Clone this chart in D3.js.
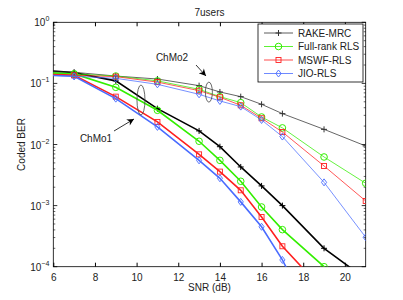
<!DOCTYPE html>
<html>
<head>
<meta charset="utf-8">
<script src="https://cdn.jsdelivr.net/npm/d3@7"></script>
<style>
  body { margin: 0; background: #fff; }
  text { font-family: "Liberation Sans", Arial, sans-serif; fill: #222; }
</style>
</head>
<body>
<script>
var width = 403;
var height = 300;
var margin = {top: 22.3, right: 37.3, bottom: 33.3, left: 53.3};

var snr = [5, 7, 9, 11, 13, 14, 15, 16, 17, 19, 21];
var seriesNames = ["RAKE-MRC", "Full-rank RLS", "MSWF-RLS", "JIO-RLS"];
var seriesColors = ["#000000", "#33ee00", "#ff2020", "#4a6cff"];
var markers = ["plus", "circle", "square", "diamond"];

// ChMo1 (thick lines)
var rakeMo1 = [0.17, 0.150, 0.110, 0.0386, 0.0167, 0.0092, 0.00429, 0.0021, 0.0010, 2.0e-4, 6.3e-5];
var fullMo1 = [0.155, 0.143, 0.0863, 0.0363, 0.0113, 0.0055, 0.0025, 9.5e-4, 4.04e-4, 1.0e-4, 2.0e-5];
var mswfMo1 = [0.145, 0.136, 0.0607, 0.0234, 0.0069, 0.0036, 0.00178, 6.5e-4, 2.16e-4, 4.0e-5, 8e-6];
var jioMo1  = [0.14, 0.131, 0.0563, 0.0194, 0.0055, 0.0028, 0.00115, 4.5e-4, 1.29e-4, 6e-6, 1e-6];

// ChMo2 (thin lines)
var rakeMo2 = [0.16, 0.152, 0.132, 0.118, 0.0919, 0.0724, 0.0607, 0.0455, 0.032, 0.0177, 0.00946];
var fullMo2 = [0.15, 0.143, 0.132, 0.110, 0.080, 0.0607, 0.0484, 0.0282, 0.0187, 0.00625, 0.00232];
var mswfMo2 = [0.145, 0.136, 0.129, 0.105, 0.0761, 0.0593, 0.0438, 0.0269, 0.016, 0.00445, 0.00119];
var jioMo2  = [0.14, 0.131, 0.121, 0.0966, 0.0663, 0.0516, 0.0417, 0.0252, 0.0135, 0.0024, 3.03e-4];

var xTicks = [6, 8, 10, 12, 14, 16, 18, 20];
var yTicks = [1, 0.1, 0.01, 0.001, 0.0001];

var svg = d3.select("body").append("svg")
  .attr("width", width).attr("height", height);

var pw = width - margin.left - margin.right;
var ph = height - margin.top - margin.bottom;

var x = d3.scaleLinear().domain([6, 21]).range([margin.left, margin.left + pw]);
var y = d3.scaleLog().domain([1e-4, 1]).range([margin.top + ph, margin.top]);

svg.append("defs").append("clipPath").attr("id", "clip")
  .append("rect").attr("x", margin.left).attr("y", margin.top)
  .attr("width", pw).attr("height", ph);

svg.select("defs").append("marker")
  .attr("id", "arrow").attr("viewBox", "0 0 10 10")
  .attr("refX", 10).attr("refY", 5)
  .attr("markerWidth", 9).attr("markerHeight", 7)
  .attr("markerUnits", "userSpaceOnUse")
  .attr("orient", "auto")
  .append("path").attr("d", "M0,0 L10,5 L0,10 L3,5 Z").attr("fill", "#000");

// axes box
svg.append("rect")
  .attr("x", margin.left).attr("y", margin.top)
  .attr("width", pw).attr("height", ph)
  .attr("fill", "none").attr("stroke", "#000").attr("stroke-width", 0.8);

// x ticks (inward, bottom and top)
var xAxisB = d3.axisBottom(x).tickValues(xTicks).tickSizeInner(-4).tickSizeOuter(0).tickPadding(7);
var gxb = svg.append("g").attr("transform", "translate(0," + (margin.top + ph) + ")").call(xAxisB);
gxb.select(".domain").remove();
gxb.selectAll("text").attr("font-size", 10).attr("fill", "#222").style("font-family", "Liberation Sans, Arial, sans-serif");
var xAxisT = d3.axisTop(x).tickValues(xTicks).tickSizeInner(-4).tickSizeOuter(0).tickFormat("");
var gxt = svg.append("g").attr("transform", "translate(0," + margin.top + ")").call(xAxisT);
gxt.select(".domain").remove();

// y ticks, major and minor, left and right
var minor = [];
[-4, -3, -2, -1].forEach(function(e) {
  for (var k = 2; k <= 9; k++) minor.push(k * Math.pow(10, e));
});
[margin.left, margin.left + pw].forEach(function(xx, side) {
  var dir = side === 0 ? 1 : -1;
  svg.selectAll(null).data(yTicks).enter().append("line")
    .attr("x1", xx).attr("x2", xx + dir * 4)
    .attr("y1", function(d) { return y(d); }).attr("y2", function(d) { return y(d); })
    .attr("stroke", "#000").attr("stroke-width", 0.8);
  svg.selectAll(null).data(minor).enter().append("line")
    .attr("x1", xx).attr("x2", xx + dir * 2)
    .attr("y1", function(d) { return y(d); }).attr("y2", function(d) { return y(d); })
    .attr("stroke", "#000").attr("stroke-width", 0.6);
});

// y tick labels 10^k
var ylab = svg.selectAll(null).data(yTicks).enter().append("text")
  .attr("x", margin.left - 4)
  .attr("y", function(d) { return y(d) + 4; })
  .attr("text-anchor", "end")
  .attr("font-size", 10);
ylab.append("tspan").text("10");
ylab.append("tspan").attr("dy", -5).attr("font-size", 7)
  .text(function(d) { var e = Math.round(Math.log10(d)); return e === 0 ? "0" : "\u2212" + (-e); });

// labels
svg.append("text").attr("x", x(13.5)).attr("y", 16).attr("text-anchor", "middle")
  .attr("font-size", 10).text("7users");
svg.append("text").attr("x", x(13.5)).attr("y", 291).attr("text-anchor", "middle")
  .attr("font-size", 10).text("SNR (dB)");
svg.append("text").attr("transform", "translate(25," + (margin.top + ph / 2) + ") rotate(-90)")
  .attr("text-anchor", "middle").attr("font-size", 10).text("Coded BER");

// curves
var groups = [
  {vals: [rakeMo1, fullMo1, mswfMo1, jioMo1], w: 1.6, rake: "#000"},
  {vals: [rakeMo2, fullMo2, mswfMo2, jioMo2], w: 0.75, rake: "#333"}
];
var line = d3.line().x(function(d) { return x(d[0]); }).y(function(d) { return y(d[1]); });
var plot = svg.append("g").attr("clip-path", "url(#clip)");

function drawMarker(g, type, cx, cy, color) {
  if (type === "plus") {
    g.append("path").attr("d", "M" + (cx - 3) + "," + cy + "h6M" + cx + "," + (cy - 3) + "v6")
      .attr("stroke", color).attr("stroke-width", 1).attr("fill", "none");
  } else if (type === "circle") {
    g.append("circle").attr("cx", cx).attr("cy", cy).attr("r", 3.3)
      .attr("stroke", color).attr("stroke-width", 1).attr("fill", "none");
  } else if (type === "square") {
    g.append("rect").attr("x", cx - 2.5).attr("y", cy - 2.5).attr("width", 5).attr("height", 5)
      .attr("stroke", color).attr("stroke-width", 0.9).attr("fill", "none");
  } else {
    g.append("path").attr("d", "M" + cx + "," + (cy - 3.5) + "L" + (cx + 2.6) + "," + cy + "L" + cx + "," + (cy + 3.5) + "L" + (cx - 2.6) + "," + cy + "Z")
      .attr("stroke", color).attr("stroke-width", 0.9).attr("fill", "none");
  }
}

groups.forEach(function(grp) {
  grp.vals.forEach(function(vals, i) {
    var color = i === 0 ? grp.rake : seriesColors[i];
    var pts = snr.map(function(s, j) { return [s, vals[j]]; });
    plot.append("path").datum(pts).attr("d", line)
      .attr("fill", "none").attr("stroke", color).attr("stroke-width", grp.w);
    pts.forEach(function(p) {
      if (p[0] < 6 || p[1] < 1e-4) return;
      drawMarker(plot, markers[i], x(p[0]), y(p[1]), color);
    });
  });
});

// annotations
var ann = svg.append("g");
ann.append("ellipse").attr("cx", x(13.47)).attr("cy", y(0.072)).attr("rx", 3.5).attr("ry", 10)
  .attr("fill", "none").attr("stroke", "#444").attr("stroke-width", 0.8);
ann.append("ellipse").attr("cx", x(10.21)).attr("cy", y(0.0535)).attr("rx", 4).attr("ry", 15)
  .attr("fill", "none").attr("stroke", "#444").attr("stroke-width", 0.8);
ann.append("line").attr("x1", 196).attr("y1", 65).attr("x2", 206).attr("y2", 76)
  .attr("stroke", "#000").attr("stroke-width", 0.8).attr("marker-end", "url(#arrow)");
ann.append("line").attr("x1", 114).attr("y1", 131).attr("x2", 134).attr("y2", 119)
  .attr("stroke", "#000").attr("stroke-width", 0.8).attr("marker-end", "url(#arrow)");
ann.append("text").attr("x", 172).attr("y", 61).attr("text-anchor", "middle").attr("font-size", 10).text("ChMo2");
ann.append("text").attr("x", 96).attr("y", 142).attr("text-anchor", "middle").attr("font-size", 10).text("ChMo1");

// legend
var lg = svg.append("g");
lg.append("rect").attr("x", 258).attr("y", 24).attr("width", 105).attr("height", 58)
  .attr("fill", "#fff").attr("stroke", "#000").attr("stroke-width", 0.8);
seriesNames.forEach(function(name, i) {
  var ly = 33 + i * 13.5;
  var color = i === 0 ? "#333" : seriesColors[i];
  lg.append("line").attr("x1", 264).attr("x2", 293).attr("y1", ly).attr("y2", ly)
    .attr("stroke", color).attr("stroke-width", 0.8);
  drawMarker(lg, markers[i], 278.5, ly, color);
  lg.append("text").attr("x", 298).attr("y", ly + 3.5).attr("font-size", 10).text(name);
});
</script>
</body>
</html>
